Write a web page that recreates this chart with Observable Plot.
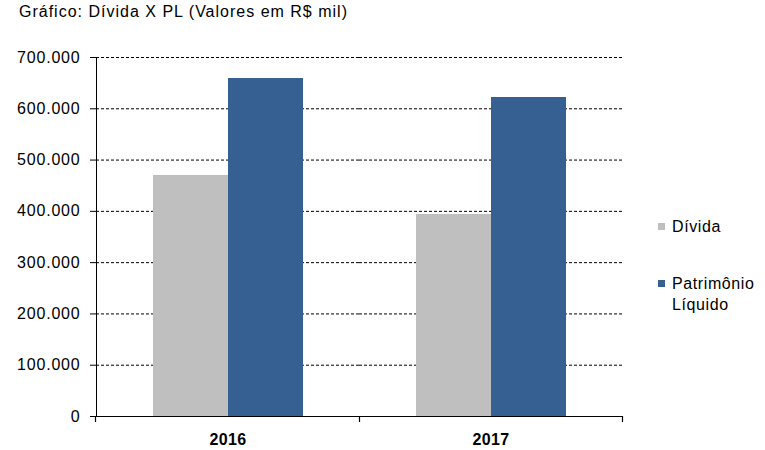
<!DOCTYPE html>
<html>
<head>
<meta charset="utf-8">
<script src="https://cdn.jsdelivr.net/npm/d3@7"></script>
<script src="https://cdn.jsdelivr.net/npm/@observablehq/plot@0.6"></script>
<style>
  html, body { margin: 0; padding: 0; background: #fff; }
  #wrap { position: relative; width: 765px; height: 450px; font-family: "Liberation Sans", Arial, sans-serif; color: #000; }
  #title { position: absolute; left: 19px; top: 1px; font-size: 16px; line-height: 21px; letter-spacing: 1px; white-space: nowrap; }
  #legend { position: absolute; left: 658px; top: 0; }
  .item { position: absolute; left: 0; white-space: nowrap; }
  .sw { position: absolute; left: 0; width: 7px; height: 7px; }
  .lab { position: absolute; left: 14px; font-size: 16px; line-height: 21px; letter-spacing: 0.6px; }
  svg text { letter-spacing: 0.8px; }
</style>
</head>
<body>
<div id="wrap">
  <div id="chart"></div>
  <div id="title"></div>
  <div id="legend"></div>
</div>
<script>
const titleText = "Gráfico: Dívida X PL (Valores em R$ mil)";
const years = ["2016", "2017"];
const seriesNames = ["Dívida", "Patrimônio Líquido"];
const legendLabels = ["Dívida", "Patrimônio<br>Líquido"];
const divida = [470000, 394000];
const patrimonio = [659000, 622000];
const seriesColors = ["#BFBFBF", "#376092"];
const yTicks = [0, 100000, 200000, 300000, 400000, 500000, 600000, 700000];

const data = [];
years.forEach((yr, i) => {
  data.push({year: yr, series: seriesNames[0], value: divida[i]});
  data.push({year: yr, series: seriesNames[1], value: patrimonio[i]});
});

const locale = d3.formatLocale({decimal: ",", thousands: ".", grouping: [3], currency: ["R$", ""]});
const fmt = locale.format(",d");

const chart = Plot.plot({
  width: 765,
  height: 450,
  marginLeft: 95,
  marginRight: 143,
  marginTop: 57,
  marginBottom: 34,
  style: {fontFamily: "'Liberation Sans', Arial, sans-serif", fontSize: "16px", color: "#000", background: "transparent", overflow: "visible"},
  facet: {data: data, x: "year"},
  fx: {domain: years, paddingInner: 0, paddingOuter: 0, axis: "bottom", label: null, tickSize: 0, tickPadding: 17},
  x: {domain: seriesNames, paddingInner: 0, paddingOuter: 0.74, axis: null},
  y: {domain: [0, 700000], ticks: yTicks, tickFormat: fmt, label: null, line: true, tickSize: 6, tickPadding: 10},
  color: {domain: seriesNames, range: seriesColors},
  marks: [
    Plot.ruleY(yTicks.filter(d => d > 0), {stroke: "#000", strokeWidth: 1, strokeDasharray: "3,2"}),
    Plot.barY(data, {x: "series", y: "value", fill: "series"}),
    Plot.ruleY([0], {stroke: "#000", strokeWidth: 1.2})
  ]
});

// bottom category boundary ticks, from the fx and y scales
const fxs = chart.scale("fx");
const ys = chart.scale("y");
const r0 = fxs.range[0], r1 = fxs.range[1];
const step = (r1 - r0) / fxs.domain.length;
const yBase = ys.range[0];
const g = d3.select(chart).append("g").attr("stroke", "#000").attr("stroke-width", 1.2);
for (let i = 0; i <= fxs.domain.length; i++) {
  const x = Math.round(r0 + i * step) + 0.5;
  g.append("line").attr("x1", x).attr("x2", x).attr("y1", yBase).attr("y2", yBase + 6);
}
d3.select(chart).selectAll('[aria-label="fx-axis"] text, [aria-label="fx-axis tick label"] text').attr("font-weight", "bold").style("letter-spacing", "0.3px");

document.getElementById("chart").appendChild(chart);
document.getElementById("title").textContent = titleText;

const legend = document.getElementById("legend");
const legendTops = [216, 273];
seriesNames.forEach((s, i) => {
  const item = document.createElement("div");
  item.className = "item";
  item.style.top = legendTops[i] + "px";
  const sw = document.createElement("div");
  sw.className = "sw";
  sw.style.background = seriesColors[i];
  sw.style.top = "7px";
  const lab = document.createElement("div");
  lab.className = "lab";
  lab.style.top = "0px";
  lab.innerHTML = legendLabels[i];
  item.appendChild(sw);
  item.appendChild(lab);
  legend.appendChild(item);
});
</script>
</body>
</html>
